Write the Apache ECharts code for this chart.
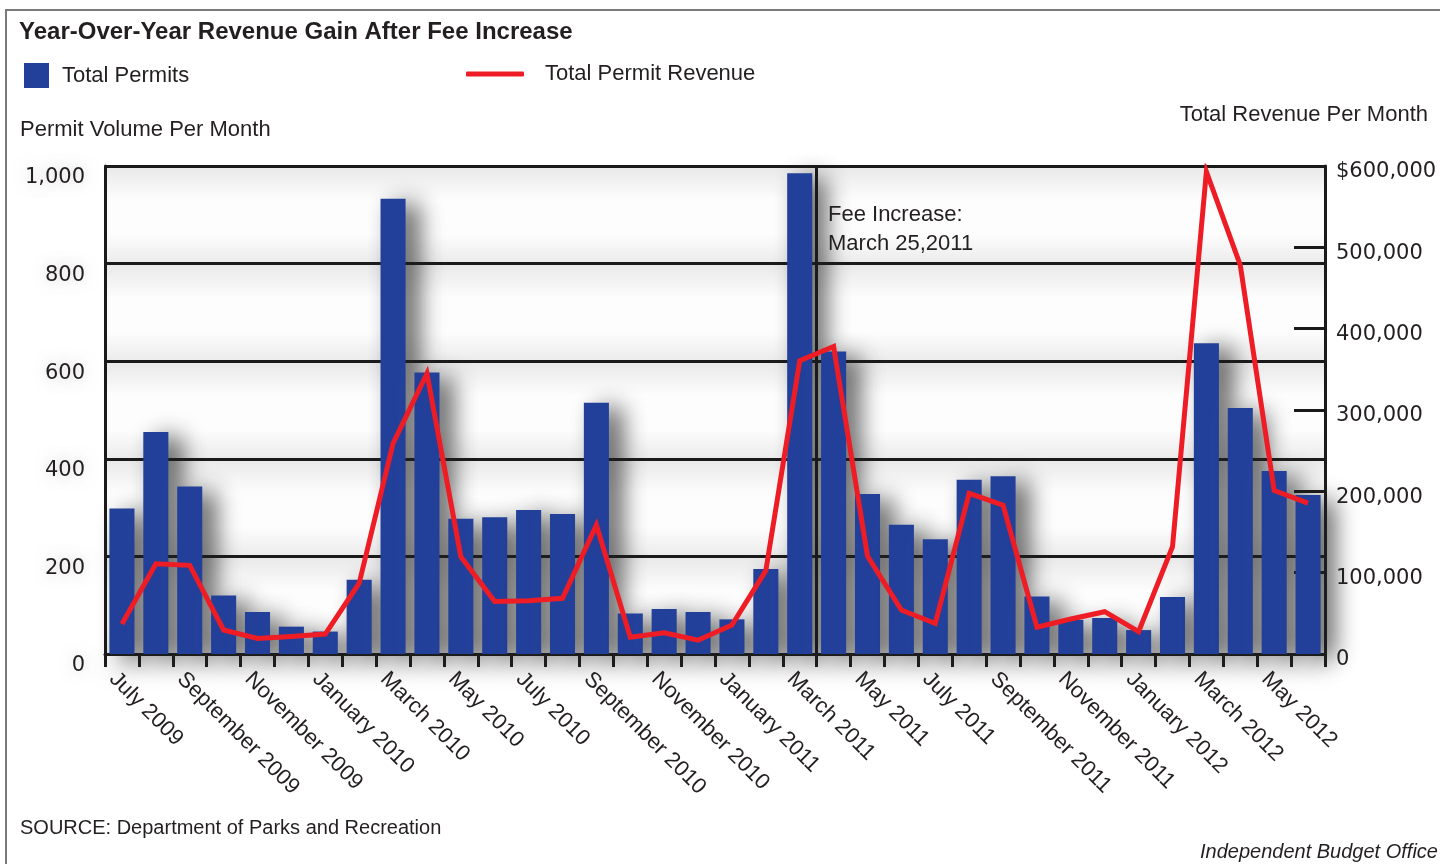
<!DOCTYPE html>
<html>
<head>
<meta charset="utf-8">
<title>Year-Over-Year Revenue Gain After Fee Increase</title>
<script src="https://cdn.jsdelivr.net/npm/echarts@6/dist/echarts.min.js"></script>
<style>
  html, body { margin: 0; padding: 0; background: #fff; }
  #chart { width: 1440px; height: 864px; }
</style>
</head>
<body>
<div id="chart"></div>
<script>
// months, July 2009 - June 2012
const months = [
  'July 2009', 'August 2009', 'September 2009', 'October 2009', 'November 2009', 'December 2009',
  'January 2010', 'February 2010', 'March 2010', 'April 2010', 'May 2010', 'June 2010',
  'July 2010', 'August 2010', 'September 2010', 'October 2010', 'November 2010', 'December 2010',
  'January 2011', 'February 2011', 'March 2011', 'April 2011', 'May 2011', 'June 2011',
  'July 2011', 'August 2011', 'September 2011', 'October 2011', 'November 2011', 'December 2011',
  'January 2012', 'February 2012', 'March 2012', 'April 2012', 'May 2012', 'June 2012'
];

// permits per month (left axis)
const permits = [
  298, 455, 343, 120, 86, 56,
  46, 152, 933, 577, 277, 280,
  295, 287, 515, 83, 92, 86,
  71, 174, 985, 620, 328, 265,
  235, 357, 364, 118, 70, 74,
  49, 117, 637, 504, 375, 326
];

// revenue per month in dollars (right axis)
const revenue = [
  37000, 111000, 109000, 29500, 19000, 21500,
  24500, 87000, 259000, 345000, 119500, 64500,
  65500, 68500, 158500, 20500, 26000, 17000,
  35500, 102500, 360500, 378000, 120500, 54000,
  37500, 197500, 183000, 33000, 43000, 52000,
  27500, 132000, 593000, 478000, 201000, 185500
];

// labels sit on the month boundaries, so one extra slot at the end
const tickLabels = months.concat(['']);
const feeIncreaseMonth = 'April 2011';   // line drawn at the start of this month

const ink = '#231f20';
const blue = '#22409a';
const red = '#ee1c25';

const chart = echarts.init(document.getElementById('chart'));

const bandFill = {
  type: 'linear', x: 0, y: 0, x2: 0, y2: 1,
  colorStops: [
    { offset: 0, color: '#e8e8e8' },
    { offset: 0.35, color: '#fdfdfd' },
    { offset: 0.7, color: '#fdfdfd' },
    { offset: 1, color: '#ebebeb' }
  ]
};

const option = {
  backgroundColor: '#fff',
  animation: false,
  title: {
    text: 'Year-Over-Year Revenue Gain After Fee Increase',
    left: 14, top: 15,
    textStyle: { fontFamily: 'Liberation Sans', fontWeight: 'bold', fontSize: 24, color: ink }
  },
  legend: [
    {
      data: ['Total Permits'],
      left: 19, top: 58,
      icon: 'rect', itemWidth: 25, itemHeight: 25,
      textStyle: { fontFamily: 'Liberation Sans', fontSize: 22, color: ink, padding: [0, 0, 0, 8] }
    },
    {
      data: ['Total Permit Revenue'],
      left: 461, top: 58,
      icon: 'roundRect', itemWidth: 58, itemHeight: 5,
      itemStyle: { color: red },
      textStyle: { fontFamily: 'Liberation Sans', fontSize: 22, color: ink, padding: [0, 0, 0, 16] }
    }
  ],
  grid: { left: 105, right: 115, top: 166, bottom: 210, containLabel: false },
  xAxis: [
    {
      type: 'category',
      data: months,
      position: 'bottom',
      boundaryGap: true,
      axisLine: { show: true, lineStyle: { color: '#1a1a1a', width: 3,
        shadowColor: 'rgba(0,0,0,0.35)', shadowBlur: 22, shadowOffsetY: 12 } },
      axisTick: { show: true, interval: 0, inside: false, length: 13, lineStyle: { color: '#1a1a1a', width: 3 } },
      axisLabel: { show: false },
      splitLine: { show: false }
    },
    {
      type: 'category',
      data: tickLabels,
      position: 'bottom',
      boundaryGap: false,
      axisLine: { show: false },
      axisTick: { show: false },
      splitLine: { show: false },
      axisLabel: {
        interval: 1,
        rotate: -45,
        margin: 14,
        padding: [0, 0, 0, 11],
        fontFamily: 'Liberation Sans',
        fontSize: 22,
        color: ink
      }
    }
  ],
  yAxis: [
    {
      type: 'value',
      min: 0, max: 1000, interval: 200,
      position: 'left',
      axisLine: { show: true, lineStyle: { color: '#1a1a1a', width: 3 } },
      axisTick: { show: false },
      splitLine: { show: true, lineStyle: { color: '#1a1a1a', width: 3 } },
      splitArea: { show: true, areaStyle: { color: [bandFill] } },
      axisLabel: {
        margin: 20,
        fontFamily: 'DejaVu Sans',
        fontSize: 21,
        color: ink,
        verticalAlign: 'top',
        lineHeight: 24,
        textShadowColor: 'rgba(0,0,0,0.18)',
        textShadowBlur: 14,
        formatter: v => v.toLocaleString('en-US')
      }
    },
    {
      type: 'value',
      min: 0, max: 600000, interval: 100000,
      position: 'right',
      axisLine: { show: true, lineStyle: { color: '#1a1a1a', width: 3 } },
      axisTick: { show: true, inside: true, length: 31, lineStyle: { color: '#1a1a1a', width: 3 } },
      splitLine: { show: false },
      axisLabel: {
        margin: 11,
        fontFamily: 'DejaVu Sans',
        fontSize: 21,
        color: ink,
        verticalAlign: 'top',
        lineHeight: 12,
        formatter: v => v === 600000 ? '$600,000' : v.toLocaleString('en-US')
      }
    }
  ],
  series: [
    {
      name: 'Total Permits',
      type: 'bar',
      xAxisIndex: 0,
      yAxisIndex: 0,
      data: permits,
      barWidth: '74%',
      itemStyle: {
        color: blue,
        shadowColor: 'rgba(30,30,30,0.75)',
        shadowBlur: 24,
        shadowOffsetX: 13,
        shadowOffsetY: 5
      },
      z: 2
    },
    {
      name: 'Total Permit Revenue',
      type: 'line',
      xAxisIndex: 0,
      yAxisIndex: 1,
      data: revenue,
      symbol: 'none',
      lineStyle: { color: red, width: 5, join: 'miter' },
      itemStyle: { color: red },
      z: 5
    },
    {
      // carries only the fee increase marker
      name: 'fee',
      type: 'line',
      xAxisIndex: 1,
      yAxisIndex: 0,
      data: [],
      markLine: {
        silent: true,
        symbol: ['none', 'none'],
        label: { show: false },
        lineStyle: { color: '#1a1a1a', width: 3, type: 'solid' },
        data: [{ xAxis: feeIncreaseMonth }]
      },
      z: 4
    }
  ],
  graphic: [
    {
      type: 'rect',
      shape: { x: 6, y: 10, width: 1460, height: 900 },
      style: { fill: 'none', stroke: '#7a7a7a', lineWidth: 2 },
      silent: true
    },
    {
      type: 'text', left: 20, top: 119,
      style: { text: 'Permit Volume Per Month', fontFamily: 'Liberation Sans', fontSize: 22, fill: ink }
    },
    {
      type: 'text', right: 12, top: 104,
      style: { text: 'Total Revenue Per Month', fontFamily: 'Liberation Sans', fontSize: 22, fill: ink }
    },
    {
      type: 'text', left: 828, top: 200,
      style: {
        text: 'Fee Increase:\nMarch 25,2011',
        fontFamily: 'Liberation Sans', fontSize: 22, lineHeight: 29, fill: ink
      },
      z: 10
    },
    {
      type: 'text', left: 20, top: 818,
      style: { text: 'SOURCE: Department of Parks and Recreation', fontFamily: 'Liberation Sans', fontSize: 20, fill: ink }
    },
    {
      type: 'text', left: 1200, top: 842,
      style: { text: 'Independent Budget Office', fontFamily: 'Liberation Sans', fontStyle: 'italic', fontSize: 20, fill: ink }
    }
  ]
};

chart.setOption(option);
</script>
</body>
</html>
